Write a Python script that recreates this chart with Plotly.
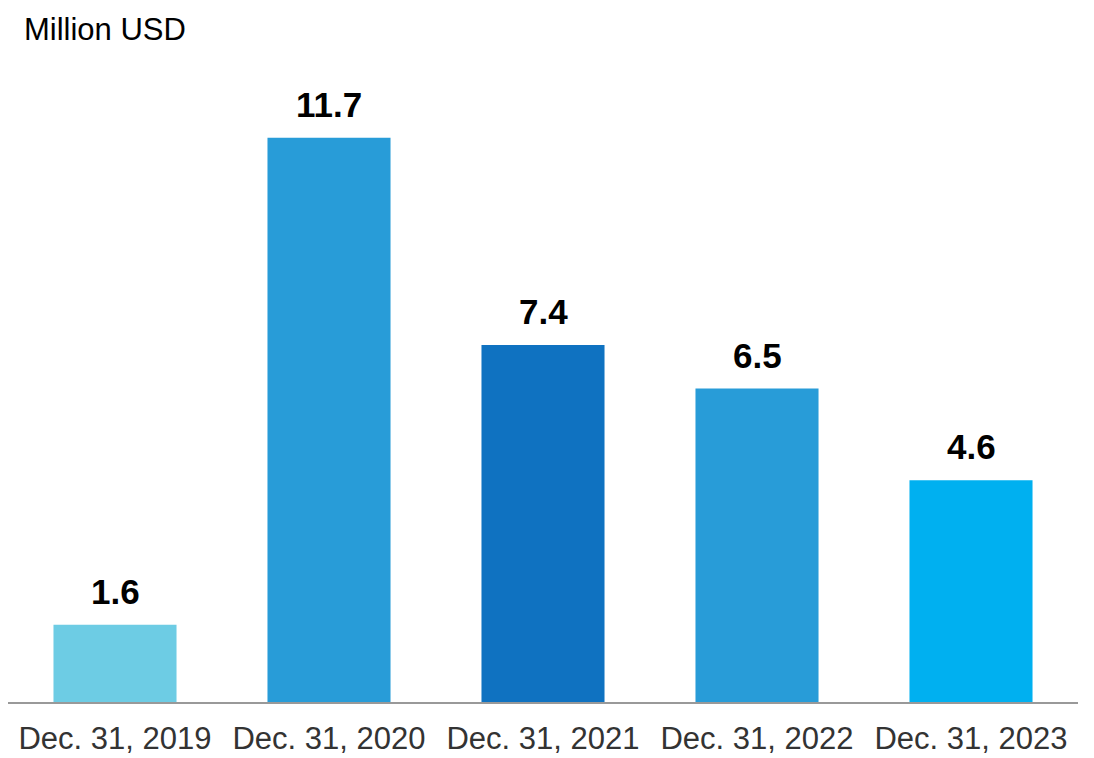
import plotly.graph_objects as go

# Year-end balances, million USD
dates = ["Dec. 31, 2019", "Dec. 31, 2020", "Dec. 31, 2021", "Dec. 31, 2022", "Dec. 31, 2023"]
values = [1.6, 11.7, 7.4, 6.5, 4.6]
bar_colors = ["#6DCCE4", "#289CD8", "#0F72C1", "#289CD8", "#00B0F0"]

FONT = "Liberation Sans, Arial, sans-serif"

fig = go.Figure(
    go.Bar(
        x=dates,
        y=values,
        marker=dict(color=bar_colors, line=dict(width=0)),
        hoverinfo="x+y",
    )
)

# Bold value labels above each bar
for d, v in zip(dates, values):
    fig.add_annotation(
        x=d, y=v, text=f"<b>{v:.1f}</b>",
        showarrow=False, yanchor="bottom", yshift=12,
        font=dict(family=FONT, size=35, color="#000000"),
    )

fig.update_layout(
    width=1094, height=758,
    margin=dict(l=8, r=16, t=75, b=56, autoexpand=False),
    paper_bgcolor="white", plot_bgcolor="white",
    bargap=0.425,
    showlegend=False,
    font=dict(family=FONT),
    title=dict(
        text="Million USD", x=24 / 1094, xanchor="left",
        y=1 - 29 / 758, yanchor="middle", yref="container",
        font=dict(family=FONT, size=31, color="#000000"),
    ),
    xaxis=dict(
        showline=True, linecolor="#999999", linewidth=2,
        showgrid=False, ticks="", zeroline=False,
        automargin=False, ticklabelstandoff=8,
        tickfont=dict(family=FONT, size=31, color="#333333"),
    ),
    yaxis=dict(
        range=[0, 13], visible=False, showgrid=False, zeroline=False,
        automargin=False,
    ),
)

fig.write_html("out.html")
